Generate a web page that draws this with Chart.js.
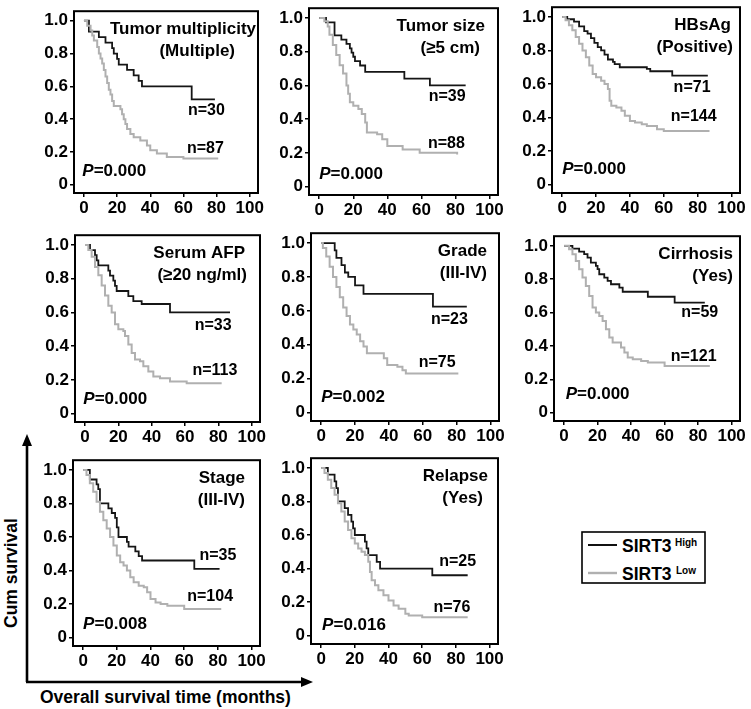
<!DOCTYPE html>
<html>
<head>
<meta charset="utf-8">
<script src="https://cdn.jsdelivr.net/npm/chart.js@4.4.1/dist/chart.umd.min.js"></script>
<style>
  body { margin: 0; background: #fff; width: 751px; height: 709px; position: relative; overflow: hidden; }
  canvas { position: absolute; }
  svg { position: absolute; left: 0; top: 0; }
  svg text { font-family: "Liberation Sans", Arial, sans-serif; font-weight: bold; fill: #000; }
</style>
</head>
<body>
<svg width="751" height="709">
  <!-- outer axes -->
  <line x1="27" y1="445" x2="27" y2="682" stroke="#000" stroke-width="2.6"/>
  <polygon points="27,434 22,446 32,446" fill="#000"/>
  <line x1="26" y1="682" x2="302" y2="682" stroke="#000" stroke-width="2.6"/>
  <polygon points="313,682 301,677 301,687" fill="#000"/>
  <text x="17" y="573" font-size="17.5" text-anchor="middle" transform="rotate(-90 17 573)">Cum survival</text>
  <text x="40" y="703" font-size="17.5">Overall survival time (months)</text>
  <!-- legend -->
  <rect x="582" y="532" width="123" height="51" fill="none" stroke="#000" stroke-width="1.6"/>
  <line x1="588" y1="545" x2="617" y2="545" stroke="#111" stroke-width="2"/>
  <line x1="588" y1="573" x2="617" y2="573" stroke="#b0b0b0" stroke-width="2.4"/>
  <text x="622" y="551.5" font-size="17.5">SIRT3</text>
  <text x="675" y="546" font-size="10">High</text>
  <text x="622" y="580" font-size="17.5">SIRT3</text>
  <text x="676" y="574" font-size="10">Low</text>
</svg>
<script>
const xTicks = [0, 20, 40, 60, 80, 100];
const yTicks = [0, 0.2, 0.4, 0.6, 0.8, 1.0];
const yTickLabels = ['0', '0.2', '0.4', '0.6', '0.8', '1.0'];

const titles = [
  ['Tumor multiplicity', '(Multiple)'],
  ['Tumor size', '(\u22655 cm)'],
  ['HBsAg', '(Positive)'],
  ['Serum AFP', '(\u226520 ng/ml)'],
  ['Grade', '(III-IV)'],
  ['Cirrhosis', '(Yes)'],
  ['Stage', '(III-IV)'],
  ['Relapse', '(Yes)']
];
const pValues = ['0.000', '0.000', '0.000', '0.000', '0.002', '0.000', '0.008', '0.016'];
const nHigh = [30, 39, 71, 33, 23, 59, 35, 25];
const nLow = [87, 88, 144, 113, 75, 121, 104, 76];

// [months, cumulative survival] at each step
const multHigh = [[0,1],[3,0.933],[9,0.9],[13,0.867],[17,0.833],[18,0.8],[20,0.767],[21,0.733],[26,0.7],[30,0.667],[33,0.633],[35,0.6],[65,0.52],[79,0.52]];
const multLow = [[0,1],[2,0.97],[4,0.94],[5,0.91],[6,0.88],[8,0.84],[9,0.8],[10,0.77],[11,0.74],[12,0.7],[13,0.66],[14,0.62],[15,0.58],[16,0.55],[17,0.51],[18,0.48],[22,0.46],[23,0.43],[24,0.4],[25,0.37],[26,0.34],[28,0.31],[30,0.29],[34,0.27],[38,0.24],[40,0.21],[44,0.19],[50,0.17],[60,0.16],[81,0.16]];
const sizeHigh = [[0,1],[4,0.974],[9,0.897],[13,0.872],[16,0.846],[18,0.82],[19,0.795],[20,0.77],[21,0.744],[24,0.718],[27,0.68],[50,0.64],[65,0.6],[86,0.6]];
const sizeLow = [[0,1],[3,0.98],[5,0.95],[6,0.9],[8,0.84],[10,0.78],[12,0.72],[14,0.67],[16,0.6],[17,0.55],[18,0.5],[20,0.48],[23,0.46],[25,0.43],[27,0.38],[28,0.32],[34,0.31],[37,0.28],[40,0.24],[49,0.22],[59,0.2],[81,0.19]];
const hbsHigh = [[0,1],[3,0.986],[7,0.972],[10,0.944],[13,0.915],[15,0.9],[17,0.873],[19,0.845],[21,0.82],[23,0.8],[25,0.775],[27,0.746],[30,0.732],[31,0.718],[34,0.7],[50,0.69],[52,0.676],[65,0.65],[86,0.65]];
const hbsLow = [[0,1],[2,0.98],[4,0.95],[6,0.92],[8,0.88],[10,0.84],[12,0.8],[14,0.76],[16,0.71],[18,0.66],[20,0.64],[23,0.62],[25,0.6],[27,0.57],[28,0.5],[29,0.47],[32,0.46],[35,0.44],[37,0.41],[40,0.38],[43,0.37],[47,0.36],[50,0.35],[56,0.33],[60,0.32],[87,0.32]];
const afpHigh = [[0,1],[3,0.97],[6,0.94],[7,0.909],[8,0.879],[14,0.848],[15,0.818],[17,0.788],[18,0.758],[19,0.727],[26,0.697],[29,0.667],[34,0.65],[51,0.6],[87,0.6]];
const afpLow = [[0,1],[2,0.97],[4,0.93],[6,0.87],[8,0.82],[10,0.76],[12,0.7],[14,0.64],[16,0.6],[18,0.53],[20,0.5],[23,0.49],[24,0.46],[26,0.41],[28,0.36],[30,0.32],[33,0.31],[35,0.28],[38,0.25],[41,0.22],[45,0.21],[51,0.19],[61,0.18],[82,0.18]];
const gradeHigh = [[0,1],[8,0.957],[9,0.913],[12,0.87],[14,0.826],[16,0.8],[20,0.75],[25,0.7],[66,0.625],[86,0.625]];
const gradeLow = [[0,1],[1,0.97],[3,0.92],[5,0.86],[7,0.8],[9,0.74],[11,0.68],[13,0.62],[15,0.57],[17,0.52],[19,0.49],[21,0.46],[23,0.42],[25,0.39],[27,0.35],[37,0.32],[39,0.28],[45,0.27],[48,0.25],[50,0.23],[81,0.23]];
const cirrHigh = [[0,1],[5,0.983],[9,0.966],[12,0.95],[14,0.93],[16,0.9],[19,0.88],[20,0.86],[21,0.83],[24,0.81],[26,0.79],[28,0.77],[33,0.75],[35,0.725],[50,0.695],[66,0.66],[84,0.66]];
const cirrLow = [[0,1],[3,0.98],[5,0.95],[7,0.91],[9,0.86],[11,0.81],[13,0.76],[15,0.7],[17,0.63],[19,0.6],[21,0.58],[23,0.55],[25,0.5],[27,0.45],[29,0.42],[34,0.39],[36,0.36],[38,0.33],[41,0.32],[46,0.31],[50,0.3],[60,0.28],[87,0.28]];
const stageHigh = [[0,1],[4,0.943],[8,0.914],[9,0.886],[10,0.8],[15,0.771],[17,0.743],[19,0.714],[20,0.657],[21,0.6],[26,0.571],[27,0.543],[31,0.514],[33,0.486],[35,0.46],[66,0.41],[81,0.41]];
const stageLow = [[0,1],[2,0.97],[4,0.92],[6,0.87],[8,0.81],[10,0.75],[12,0.7],[14,0.65],[16,0.6],[18,0.55],[20,0.49],[22,0.45],[24,0.43],[26,0.4],[28,0.36],[30,0.33],[33,0.31],[36,0.3],[38,0.27],[40,0.23],[43,0.21],[46,0.2],[50,0.19],[60,0.17],[82,0.17]];
const relHigh = [[0,1],[4,0.96],[8,0.92],[9,0.88],[10,0.8],[14,0.76],[16,0.72],[18,0.68],[19,0.64],[20,0.6],[26,0.56],[27,0.52],[28,0.48],[33,0.44],[35,0.4],[66,0.36],[87,0.36]];
const relLow = [[0,1],[2,0.97],[4,0.93],[6,0.88],[8,0.84],[10,0.79],[12,0.74],[14,0.68],[16,0.63],[18,0.58],[20,0.55],[22,0.52],[24,0.5],[26,0.48],[28,0.44],[29,0.38],[30,0.33],[32,0.3],[34,0.27],[37,0.24],[40,0.21],[43,0.18],[46,0.16],[50,0.13],[52,0.12],[60,0.11],[87,0.11]];

const series = [
  [multHigh, multLow], [sizeHigh, sizeLow], [hbsHigh, hbsLow], [afpHigh, afpLow],
  [gradeHigh, gradeLow], [cirrHigh, cirrLow], [stageHigh, stageLow], [relHigh, relLow]
];

// layout: plot box [left, top, width, height] in page px
const boxes = [[74,9,184,184],[309,6,189,189],[552,5,188,188],[75,233,185,189],[311,231,188,190],[554,234,186,187],[73,458,187,188],[311,456,187,188]];
const titleRight = [[2,23],[13,18],[9,7],[15,13],[12,12],[7,7],[15,15],[10,15]];
// n-label anchors in data units: [highX, highY, lowX, lowY] (right edge, middle)
const nLabelPos = [[85,0.45,84.4,0.22],[86,0.534,85.5,0.253],[87.6,0.58,91.2,0.404],[88,0.52,91.4,0.252],[86.6,0.55,79.4,0.295],[92,0.6,91,0.338],[91,0.49,89,0.242],[92,0.44,88.6,0.168]];
const pPos = [[-1,0.08],[0,0.073],[0,0.094],[-1,0.085],[0,0.089],[1,0.112],[0,0.079],[0.6,0.061]];

const FONT = '"Liberation Sans", Arial, sans-serif';
const PAD_L = 44, PAD_T = 10, PAD_R = 18, PAD_B = 32;

function annotate(i) {
  return {
    id: 'annot' + i,
    afterDraw(chart) {
      const { ctx, chartArea: a, scales: { x, y } } = chart;
      ctx.save();
      ctx.strokeStyle = '#000';
      ctx.lineWidth = 2;
      ctx.strokeRect(a.left, a.top, a.right - a.left, a.bottom - a.top);
      ctx.fillStyle = '#000';
      ctx.textBaseline = 'middle';
      ctx.textAlign = 'right';
      ctx.font = 'bold 17px ' + FONT;
      ctx.fillText(titles[i][0], a.right - titleRight[i][0], a.top + 18);
      ctx.fillText(titles[i][1], a.right - titleRight[i][1], a.top + 40);
      ctx.font = 'bold 16px ' + FONT;
      const q = nLabelPos[i];
      ctx.fillText('n=' + nHigh[i], x.getPixelForValue(q[0]), y.getPixelForValue(q[1]));
      ctx.fillText('n=' + nLow[i], x.getPixelForValue(q[2]), y.getPixelForValue(q[3]));
      ctx.textAlign = 'left';
      let px = x.getPixelForValue(pPos[i][0]);
      const py = y.getPixelForValue(pPos[i][1]);
      ctx.font = 'italic bold 17px ' + FONT;
      ctx.fillText('P', px, py);
      px += ctx.measureText('P').width;
      ctx.font = 'bold 17px ' + FONT;
      ctx.fillText('=' + pValues[i], px, py);
      ctx.restore();
    }
  };
}

const axisGrid = { display: true, drawOnChartArea: false, drawTicks: true, tickLength: 4, color: '#000', lineWidth: 1.5 };
const tickFont = { family: FONT, size: 17, weight: 'bold' };

series.forEach(([high, low], i) => {
  const [bx, by, bw, bh] = boxes[i];
  const cv = document.createElement('canvas');
  cv.width = PAD_L + bw + PAD_R;
  cv.height = PAD_T + bh + PAD_B;
  cv.style.left = (bx - PAD_L) + 'px';
  cv.style.top = (by - PAD_T) + 'px';
  document.body.appendChild(cv);

  new Chart(cv, {
    type: 'line',
    data: {
      datasets: [
        { label: 'SIRT3 Low', data: low.map(p => ({ x: p[0], y: p[1] })), borderColor: '#b0b0b0', borderWidth: 2, stepped: true, pointRadius: 0 },
        { label: 'SIRT3 High', data: high.map(p => ({ x: p[0], y: p[1] })), borderColor: '#151515', borderWidth: 1.8, stepped: true, pointRadius: 0 }
      ]
    },
    options: {
      responsive: false,
      animation: false,
      layout: { padding: { top: PAD_T, right: PAD_R, left: 0, bottom: 0 } },
      plugins: { legend: { display: false }, tooltip: { enabled: false } },
      scales: {
        x: {
          type: 'linear', min: -6, max: 105,
          afterBuildTicks: s => { s.ticks = xTicks.map(v => ({ value: v })); },
          afterFit: s => { s.height = PAD_B; },
          grid: axisGrid,
          border: { display: false },
          ticks: { font: tickFont, color: '#000', padding: 1, maxRotation: 0, autoSkip: false }
        },
        y: {
          type: 'linear', min: -0.05, max: 1.058,
          afterBuildTicks: s => { s.ticks = yTicks.map(v => ({ value: v })); },
          afterFit: s => { s.width = PAD_L; },
          grid: axisGrid,
          border: { display: false },
          ticks: { font: tickFont, color: '#000', padding: 2, autoSkip: false,
            callback: v => yTickLabels[yTicks.indexOf(v)] }
        }
      }
    },
    plugins: [annotate(i)]
  });
});
</script>
</body>
</html>
